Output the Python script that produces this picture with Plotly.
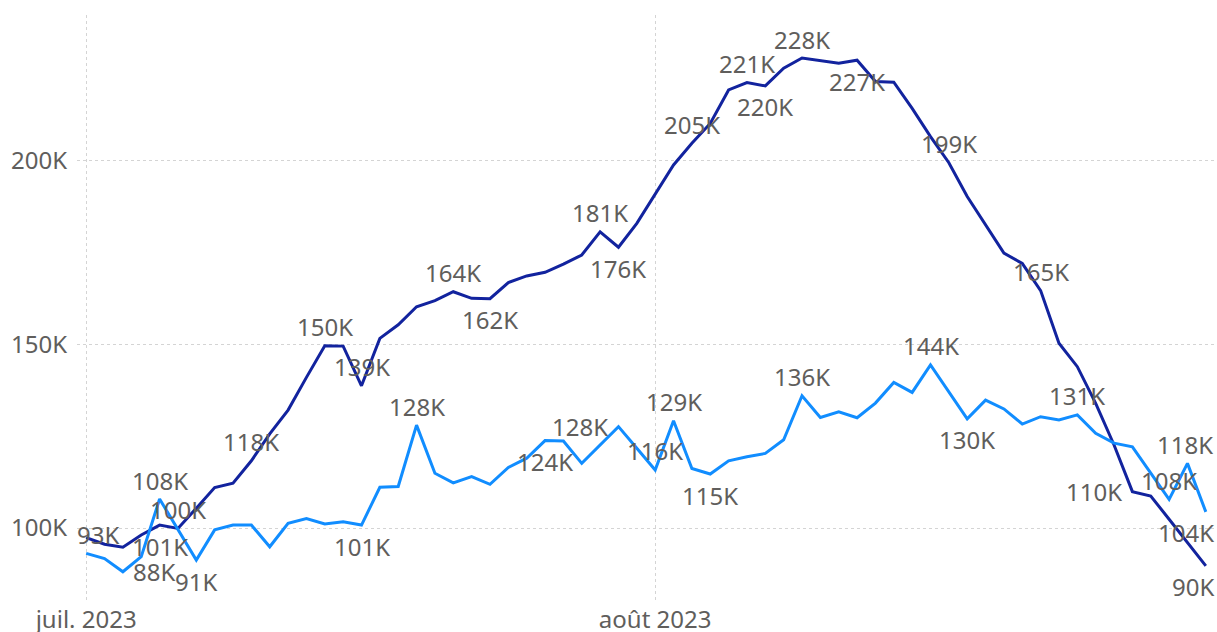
import plotly.graph_objects as go
import pandas as pd

# ---- data (values in thousands) ----
start_date = "2023-07-01"
end_date = "2023-08-31"
dates = pd.date_range(start_date, end_date, freq="D")

series_dark = [
    97.4, 95.6, 94.8, 98.1, 100.8, 99.9, 105.4, 111.0, 112.2, 118.3,
    125.6, 132.1, 141.0, 149.6, 149.5, 138.7, 151.6, 155.3, 160.2, 161.9,
    164.3, 162.5, 162.4, 166.8, 168.6, 169.6, 171.8, 174.3, 180.6, 176.4,
    182.9, 190.8, 198.8, 204.7, 210.1, 219.2, 221.2, 220.3, 225.1, 227.9,
    227.1, 226.5, 227.3, 221.5, 221.3, 214.2, 206.5, 199.4, 190.2, 182.5,
    174.8, 172.0, 164.6, 150.3, 143.9, 133.9, 122.6, 109.9, 108.7, 102.4,
    96.1, 89.7,
]
series_light = [
    93.1, 91.7, 88.1, 92.2, 107.9, 99.5, 91.3, 99.5, 100.8, 100.8,
    94.9, 101.3, 102.6, 101.1, 101.7, 100.8, 111.1, 111.3, 128.0, 114.9,
    112.3, 114.0, 111.9, 116.5, 119.0, 123.8, 123.7, 117.6, 122.6, 127.6,
    121.7, 115.8, 129.2, 116.2, 114.7, 118.3, 119.4, 120.3, 124.0, 136.0,
    130.1, 131.6, 130.0, 134.0, 139.6, 136.9, 144.4, 137.1, 129.7, 134.8,
    132.4, 128.3, 130.3, 129.4, 130.8, 125.8, 123.1, 122.1, 114.9, 107.8,
    117.6, 104.4,
]
x_tick_dates = ["2023-07-01", "2023-08-01"]
x_tick_labels = ["juil. 2023", "août 2023"]
y_tick_values = [100, 150, 200]
y_tick_labels = [f"{v}K" for v in y_tick_values]

# which points carry a data label, and where it sits
dark_labels = [(4, "below"), (5, "above"), (9, "above"), (13, "above"), (15, "above"),
               (20, "above"), (22, "below"), (28, "above"), (29, "below"), (33, "above"),
               (36, "above"), (37, "below"), (39, "above"), (42, "below"), (47, "above"),
               (52, "above"), (57, "left"), (61, "below")]
light_labels = [(0, "above"), (2, "right"), (4, "above"), (6, "below"), (15, "below"),
                (18, "above"), (25, "below"), (29, "left"), (31, "above"), (32, "above"),
                (34, "below"), (39, "above"), (46, "above"), (48, "below"), (54, "above"),
                (59, "above"), (60, "above"), (61, "below")]

# ---- style ----
DARK = "#12239E"
LIGHT = "#118DFF"
TEXT = "#605E5C"
GRID = "#D4D4D4"
FONT = "Noto Sans"
FS = 24

fig = go.Figure()
fig.add_trace(go.Scatter(x=dates, y=series_dark, mode="lines", name="Série 1",
                         line=dict(color=DARK, width=3), hoverinfo="skip"))
fig.add_trace(go.Scatter(x=dates, y=series_light, mode="lines", name="Série 2",
                         line=dict(color=LIGHT, width=3), hoverinfo="skip"))

edge_shift = {("dark", 61): -13, ("light", 61): -20, ("light", 0): 12, ("light", 60): -2}

annotations = []
for name, vals, labels in (("dark", series_dark, dark_labels), ("light", series_light, light_labels)):
    for idx, pos in labels:
        v = vals[idx]
        a = dict(x=dates[idx], y=v, xref="x", yref="y", text=f"{round(v)}K",
                 showarrow=False, font=dict(family=FONT, size=FS, color=TEXT),
                 xanchor="center", yanchor="middle")
        if pos == "above":
            a["yshift"] = 19
        elif pos == "below":
            a["yshift"] = -21
        elif pos == "left":
            a["xanchor"] = "right"
            a["xshift"] = -8
        elif pos == "right":
            a["xanchor"] = "left"
            a["xshift"] = 8
        a["xshift"] = a.get("xshift", 0) + edge_shift.get((name, idx), 0)
        annotations.append(a)

fig.update_layout(
    width=1217, height=632,
    margin=dict(l=77, r=2, t=15, b=29),
    paper_bgcolor="white", plot_bgcolor="white",
    showlegend=False,
    font=dict(family=FONT, size=FS, color=TEXT),
    annotations=annotations,
)
fig.update_xaxes(
    range=["2023-06-30 12:00", "2023-08-31 12:00"],
    tickvals=x_tick_dates, ticktext=x_tick_labels,
    showgrid=True, gridcolor=GRID, griddash="dot", gridwidth=1,
    zeroline=False, showline=False, ticks="", automargin=False,
    tickfont=dict(family=FONT, size=FS, color=TEXT),
)
fig.update_yaxes(
    range=[79.6, 239.6],
    tickvals=y_tick_values, ticktext=y_tick_labels,
    showgrid=True, gridcolor=GRID, griddash="dot", gridwidth=1,
    zeroline=False, showline=False, ticks="", automargin=False,
    ticklabelstandoff=9,
    tickfont=dict(family=FONT, size=FS, color=TEXT),
)

fig.write_html("out.html", config={"displayModeBar": False},
               post_script="document.body.style.margin='0';document.body.style.overflow='hidden';")
